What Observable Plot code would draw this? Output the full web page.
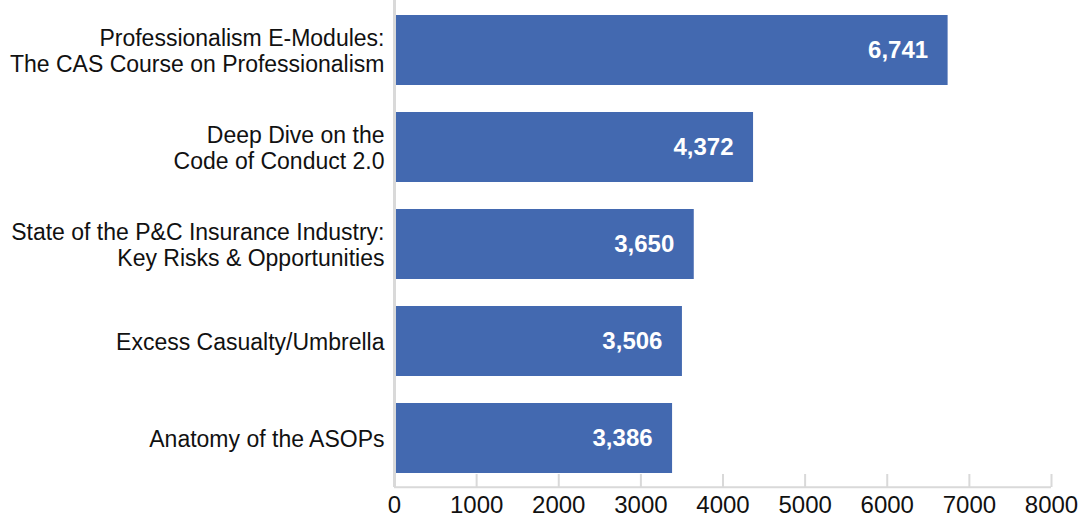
<!DOCTYPE html>
<html>
<head>
<meta charset="utf-8">
<script src="https://cdn.jsdelivr.net/npm/d3@7"></script>
<script src="https://cdn.jsdelivr.net/npm/@observablehq/plot@0.6"></script>
<style>
  html, body { margin: 0; padding: 0; background: #fff; }
  #chart svg { display: block; }
</style>
</head>
<body>
<div id="chart"></div>
<script>
const courses = [
  "Professionalism E-Modules:\nThe CAS Course on Professionalism",
  "Deep Dive on the\nCode of Conduct 2.0",
  "State of the P&C Insurance Industry:\nKey Risks & Opportunities",
  "Excess Casualty/Umbrella",
  "Anatomy of the ASOPs"
];
const views = [6741, 4372, 3650, 3506, 3386];
const xTicks = [0, 1000, 2000, 3000, 4000, 5000, 6000, 7000, 8000];

const data = courses.map((c, i) => ({course: c, value: views[i]}));

const W = 1085, H = 518;
const mTop = 0, mBottom = 31, mLeft = 394, mRight = 34;
const plotH = H - mTop - mBottom;
const step = plotH / courses.length;
const gray = "#d9d9d9";
const fontFam = "'Liberation Sans', Arial, Helvetica, sans-serif";

const chart = Plot.plot({
  width: W,
  height: H,
  marginTop: mTop,
  marginBottom: mBottom,
  marginLeft: mLeft,
  marginRight: mRight,
  style: {fontFamily: fontFam, background: "#fff", color: "#111"},
  x: {domain: [0, 8000], ticks: xTicks},
  y: {domain: courses, paddingInner: 0.28, paddingOuter: 0.14},
  marks: [
    Plot.barX(data, {y: "course", x: "value", fill: "#4369b0"}),
    Plot.text(data, {
      y: "course", x: "value", text: d => d3.format(",")(d.value),
      textAnchor: "end", dx: -20, fill: "#fff", fontWeight: "bold", fontSize: 24
    }),
    Plot.ruleX([0], {stroke: gray, strokeWidth: 3}),
    Plot.ruleY([courses[courses.length - 1]], {x1: 0, x2: 8000, dy: step / 2, stroke: gray, strokeWidth: 2}),
    Plot.ruleX(xTicks, {x: d => d, insetTop: plotH - 13, stroke: gray, strokeWidth: 2}),
    Plot.axisX({ticks: xTicks, tickSize: 0, tickPadding: 8, fontSize: 24, tickFormat: d => String(d), label: null, fill: "#111"}),
    Plot.axisY({tickSize: 0, tickPadding: 10, fontSize: 23, lineHeight: 1.13, label: null, fill: "#111"})
  ]
});
document.getElementById("chart").appendChild(chart);
</script>
</body>
</html>
